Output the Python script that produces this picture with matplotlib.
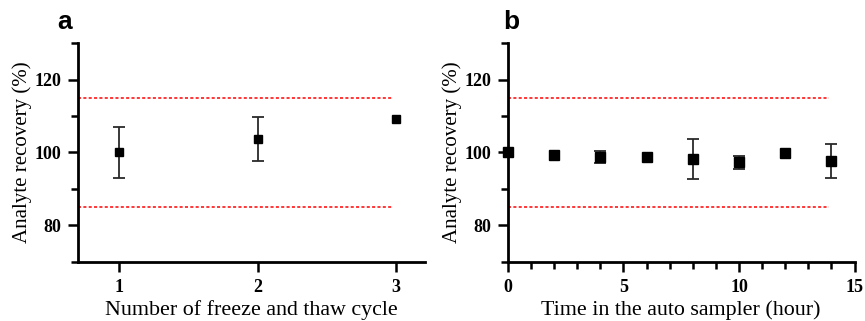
import numpy as np
import matplotlib
matplotlib.use('Agg')
import matplotlib.pyplot as plt
from matplotlib.ticker import MultipleLocator

# panel a: freeze/thaw cycles
cycles = [1, 2, 3]
cyc_mean = [100.0, 103.7, 109.1]
cyc_err = [7.0, 5.9, 0.0]

# panel b: time in auto sampler
hours = [0, 2, 4, 6, 8, 10, 12, 14]
hr_mean = [100.0, 99.2, 98.8, 98.7, 98.1, 97.3, 99.8, 97.6]
hr_err = [0.0, 0.0, 1.6, 0.0, 5.5, 1.7, 0.0, 4.7]

limits = [85, 115]

serif = ['Liberation Serif', 'DejaVu Serif']
sans = ['Liberation Sans', 'DejaVu Sans']

fig = plt.figure(figsize=(8.65, 3.21), dpi=100)
ax_a = fig.add_axes([0.090, 0.184, 0.401, 0.682])
ax_b = fig.add_axes([0.587, 0.184, 0.401, 0.682])


def style(ax):
    for s in ['top', 'right']:
        ax.spines[s].set_visible(False)
    for s in ['left', 'bottom']:
        ax.spines[s].set_linewidth(2.0)
    ax.tick_params(which='both', direction='out', width=1.8, length=7, pad=5)
    ax.tick_params(which='minor', length=5)
    ax.set_ylim(70, 130)
    ax.yaxis.set_minor_locator(MultipleLocator(10))
    ax.set_yticks([80, 100, 120])
    for lab in ax.get_xticklabels() + ax.get_yticklabels():
        lab.set_family(serif)
        lab.set_fontweight('bold')
        lab.set_fontsize(13)
    ax.set_ylabel('Analyte recovery (%)', family=serif, fontsize=15)
    ax.yaxis.set_label_coords(-0.133, 0.5)


def nz(err):
    # zero error -> nothing drawn
    return np.where(np.asarray(err) > 0, err, np.nan)


# a
ax_a.set_xlim(0.7, 3.21)
ax_a.set_xticks(cycles)
for y in limits:
    ax_a.plot([0.7, 2.98], [y, y], color='red', ls=(0, (2, 1.5)), lw=1.1)
ax_a.errorbar(cycles, cyc_mean, yerr=nz(cyc_err), fmt='s', color='black', ms=6,
              ecolor='#2a2a2a', elinewidth=1.3, capsize=4, capthick=1.3)
style(ax_a)
ax_a.set_xlabel('Number of freeze and thaw cycle', family=serif, fontsize=15.8, labelpad=3)

# b
ax_b.set_xlim(0, 15)
ax_b.xaxis.set_major_locator(MultipleLocator(5))
ax_b.xaxis.set_minor_locator(MultipleLocator(1))
for y in limits:
    ax_b.plot([0, 13.9], [y, y], color='red', ls=(0, (2, 1.5)), lw=1.1)
ax_b.errorbar(hours, hr_mean, yerr=nz(hr_err), fmt='s', color='black', ms=7,
              ecolor='#2a2a2a', elinewidth=1.3, capsize=4, capthick=1.3,
              clip_on=False, zorder=5)
style(ax_b)
ax_b.set_xlabel('Time in the auto sampler (hour)', family=serif, fontsize=15.8, labelpad=3)

fig.text(0.066, 0.91, 'a', family=sans, fontsize=19, fontweight='bold')
fig.text(0.582, 0.91, 'b', family=sans, fontsize=19, fontweight='bold')

fig.savefig('out.png', dpi=100)
